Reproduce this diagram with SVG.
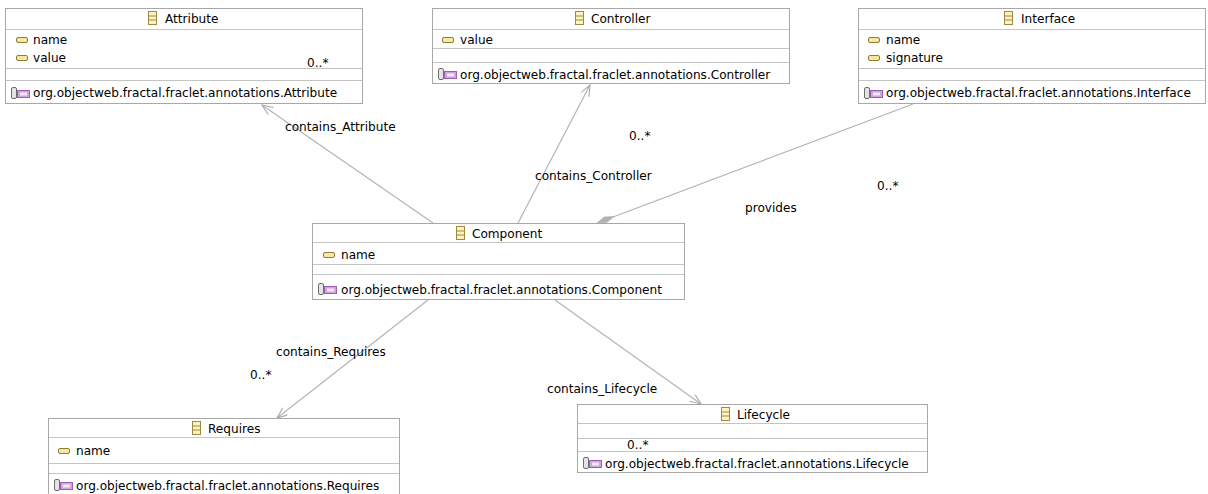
<svg xmlns="http://www.w3.org/2000/svg" width="1208" height="494" viewBox="0 0 1208 494">
<defs>
<style>
text{font-family:"DejaVu Sans","Liberation Sans",sans-serif;font-size:12.1px;fill:#000}
.box{fill:#fff;stroke:#a8a8a8;stroke-width:1}
.sep{stroke:#c4c4c4;stroke-width:1}
.edge{stroke:#b4b4b4;stroke-width:1.2;fill:none}
</style>
<marker id="open" markerWidth="12" markerHeight="10" refX="11" refY="4.5" orient="auto" markerUnits="userSpaceOnUse">
<path d="M0,0 L11,4.5 L0,9" fill="none" stroke="#a8a8a8" stroke-width="1.1"/>
</marker>
<g id="clsIcon">
<rect x="0.5" y="0.5" width="8" height="13" fill="#fbf3c2" stroke="#a08a40"/>
<line x1="1" y1="5" x2="8" y2="5" stroke="#a08a40"/>
<line x1="1" y1="9" x2="8" y2="9" stroke="#a08a40"/>
</g>
<g id="attrIcon">
<rect x="0.5" y="0.5" width="11" height="5" rx="1.5" fill="#f4e8a2" stroke="#8f7c35"/>
</g>
<g id="annIcon">
<rect x="0.5" y="0.5" width="5" height="11" rx="1.5" fill="#e4e4e4" stroke="#6e6e6e"/>
<rect x="6.5" y="3.5" width="12" height="7" fill="#cfa6dc" stroke="#9a60b2"/>
<rect x="9" y="5.5" width="7" height="3" fill="#f3e6f8"/>
</g>
</defs>

<g id="Attribute">
<rect class="box" x="5.5" y="8.5" width="357" height="95"/>
<line class="sep" x1="6" y1="29.5" x2="362" y2="29.5"/>
<line class="sep" x1="6" y1="68.5" x2="362" y2="68.5"/>
<line class="sep" x1="6" y1="80.5" x2="362" y2="80.5"/>
<use href="#clsIcon" x="148" y="11"/>
<text x="165" y="23">Attribute</text>
<use href="#attrIcon" x="16" y="37"/>
<text x="33" y="44">name</text>
<use href="#attrIcon" x="16" y="55"/>
<text x="33" y="62">value</text>
<use href="#annIcon" x="11" y="87"/>
<text x="33" y="97">org.objectweb.fractal.fraclet.annotations.Attribute</text>
</g>

<g id="Controller">
<rect class="box" x="432.5" y="8.5" width="357" height="75"/>
<line class="sep" x1="433" y1="29.5" x2="789" y2="29.5"/>
<line class="sep" x1="433" y1="48.5" x2="789" y2="48.5"/>
<line class="sep" x1="433" y1="62.5" x2="789" y2="62.5"/>
<use href="#clsIcon" x="575" y="11"/>
<text x="591" y="23">Controller</text>
<use href="#attrIcon" x="442" y="37"/>
<text x="460" y="44">value</text>
<use href="#annIcon" x="438" y="68"/>
<text x="460" y="79">org.objectweb.fractal.fraclet.annotations.Controller</text>
</g>

<g id="Interface">
<rect class="box" x="858.5" y="8.5" width="347" height="95"/>
<line class="sep" x1="859" y1="29.5" x2="1205" y2="29.5"/>
<line class="sep" x1="859" y1="68.5" x2="1205" y2="68.5"/>
<line class="sep" x1="859" y1="80.5" x2="1205" y2="80.5"/>
<use href="#clsIcon" x="1004" y="11"/>
<text x="1021" y="23">Interface</text>
<use href="#attrIcon" x="868" y="37"/>
<text x="886" y="44">name</text>
<use href="#attrIcon" x="868" y="55"/>
<text x="886" y="62">signature</text>
<use href="#annIcon" x="864" y="87"/>
<text x="886" y="97">org.objectweb.fractal.fraclet.annotations.Interface</text>
</g>

<g id="Component">
<rect class="box" x="312.5" y="223.5" width="372" height="76"/>
<line class="sep" x1="313" y1="242.5" x2="684" y2="242.5"/>
<line class="sep" x1="313" y1="264.5" x2="684" y2="264.5"/>
<line class="sep" x1="313" y1="274.5" x2="684" y2="274.5"/>
<use href="#clsIcon" x="456" y="226"/>
<text x="472" y="238">Component</text>
<use href="#attrIcon" x="323" y="252"/>
<text x="341" y="259">name</text>
<use href="#annIcon" x="318" y="283"/>
<text x="341" y="294">org.objectweb.fractal.fraclet.annotations.Component</text>
</g>

<g id="Requires">
<rect class="box" x="48.5" y="418.5" width="351" height="80"/>
<line class="sep" x1="49" y1="437.5" x2="399" y2="437.5"/>
<line class="sep" x1="49" y1="463.5" x2="399" y2="463.5"/>
<line class="sep" x1="49" y1="473.5" x2="399" y2="473.5"/>
<use href="#clsIcon" x="192" y="421"/>
<text x="208" y="433">Requires</text>
<use href="#attrIcon" x="58" y="448"/>
<text x="76" y="455">name</text>
<use href="#annIcon" x="54" y="479"/>
<text x="76" y="490">org.objectweb.fractal.fraclet.annotations.Requires</text>
</g>

<g id="Lifecycle">
<rect class="box" x="577.5" y="404.5" width="350" height="68"/>
<line class="sep" x1="578" y1="423.5" x2="927" y2="423.5"/>
<line class="sep" x1="578" y1="438.5" x2="927" y2="438.5"/>
<line class="sep" x1="578" y1="451.5" x2="927" y2="451.5"/>
<use href="#clsIcon" x="721" y="407"/>
<text x="737" y="419">Lifecycle</text>
<use href="#annIcon" x="583" y="457"/>
<text x="605" y="468">org.objectweb.fractal.fraclet.annotations.Lifecycle</text>
</g>

<g id="connectors">
<line class="edge" x1="433" y1="223" x2="262" y2="105" marker-end="url(#open)"/>
<line class="edge" x1="518" y1="223" x2="590" y2="85" marker-end="url(#open)"/>
<line class="edge" x1="913" y1="104" x2="613" y2="217"/>
<polygon points="597,223 606.5,222.6 613.8,216.7 604.3,217" fill="#b0b0b0" stroke="#b0b0b0" stroke-width="0.8"/>
<line class="edge" x1="428" y1="300" x2="277" y2="418" marker-end="url(#open)"/>
<line class="edge" x1="555" y1="300" x2="701" y2="404" marker-end="url(#open)"/>
<text x="285" y="131">contains_Attribute</text>
<text x="307" y="67">0..*</text>
<text x="535" y="180">contains_Controller</text>
<text x="629" y="140">0..*</text>
<text x="745" y="212">provides</text>
<text x="877" y="190">0..*</text>
<text x="276" y="356">contains_Requires</text>
<text x="250" y="379">0..*</text>
<text x="547" y="393">contains_Lifecycle</text>
<text x="627" y="449">0..*</text>
</g>
</svg>
